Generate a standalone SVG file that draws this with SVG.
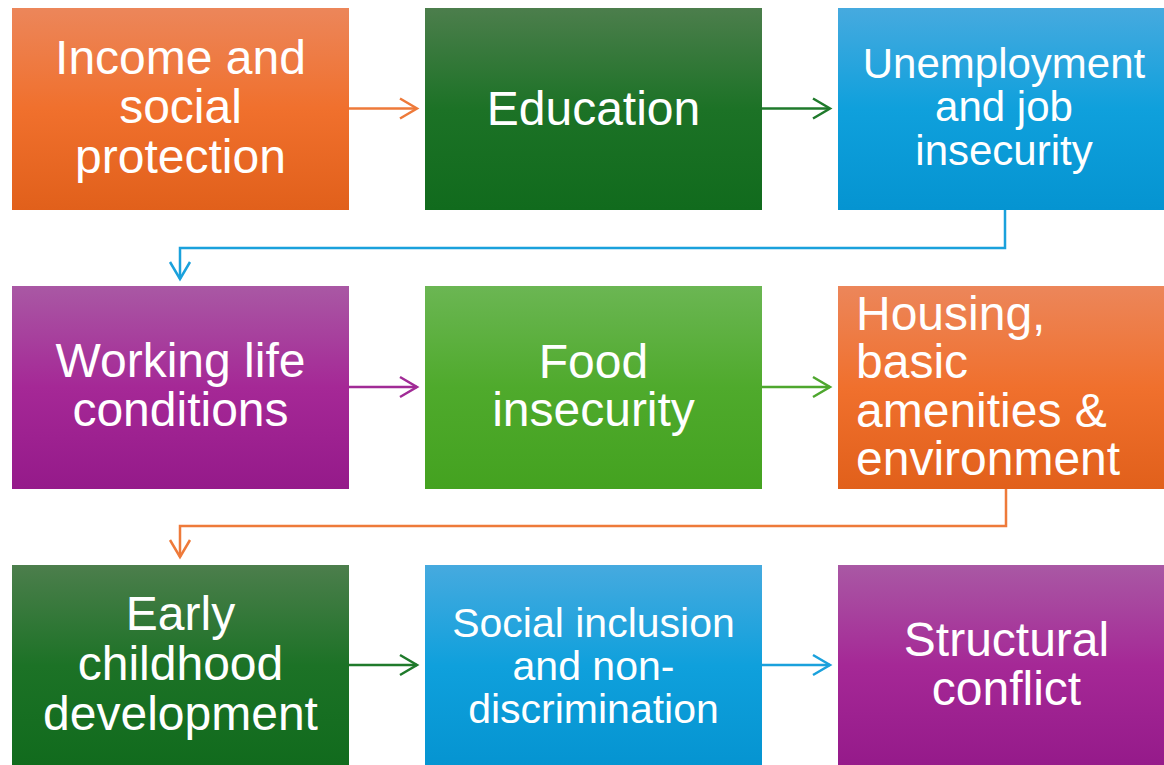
<svg xmlns="http://www.w3.org/2000/svg" width="1164" height="765" viewBox="0 0 1164 765">
  <defs>
    <linearGradient id="gOrange" x1="0" y1="0" x2="0" y2="1">
      <stop offset="0" stop-color="#EC865A"/>
      <stop offset="0.5" stop-color="#F0702D"/>
      <stop offset="1" stop-color="#E1601B"/>
    </linearGradient>
    <linearGradient id="gDark" x1="0" y1="0" x2="0" y2="1">
      <stop offset="0" stop-color="#4C7E4C"/>
      <stop offset="0.5" stop-color="#1C7226"/>
      <stop offset="1" stop-color="#116B1D"/>
    </linearGradient>
    <linearGradient id="gBlue" x1="0" y1="0" x2="0" y2="1">
      <stop offset="0" stop-color="#46AADF"/>
      <stop offset="0.5" stop-color="#0FA0DC"/>
      <stop offset="1" stop-color="#0594D1"/>
    </linearGradient>
    <linearGradient id="gPurple" x1="0" y1="0" x2="0" y2="1">
      <stop offset="0" stop-color="#A958A4"/>
      <stop offset="0.5" stop-color="#A52896"/>
      <stop offset="1" stop-color="#951A8A"/>
    </linearGradient>
    <linearGradient id="gLight" x1="0" y1="0" x2="0" y2="1">
      <stop offset="0" stop-color="#6BB653"/>
      <stop offset="0.5" stop-color="#4FAA2C"/>
      <stop offset="1" stop-color="#44A220"/>
    </linearGradient>
    <marker id="aOrange" markerUnits="userSpaceOnUse" markerWidth="24" markerHeight="24" refX="18" refY="10" orient="auto" overflow="visible">
      <path d="M1,0 L18,10 L1,20" fill="none" stroke="#EE7A3A" stroke-width="2.5"/>
    </marker>
    <marker id="aDark" markerUnits="userSpaceOnUse" markerWidth="24" markerHeight="24" refX="18" refY="10" orient="auto" overflow="visible">
      <path d="M1,0 L18,10 L1,20" fill="none" stroke="#1F7A2B" stroke-width="2.5"/>
    </marker>
    <marker id="aBlue" markerUnits="userSpaceOnUse" markerWidth="24" markerHeight="24" refX="18" refY="10" orient="auto" overflow="visible">
      <path d="M1,0 L18,10 L1,20" fill="none" stroke="#1AA1DC" stroke-width="2.5"/>
    </marker>
    <marker id="aPurple" markerUnits="userSpaceOnUse" markerWidth="24" markerHeight="24" refX="18" refY="10" orient="auto" overflow="visible">
      <path d="M1,0 L18,10 L1,20" fill="none" stroke="#A12B96" stroke-width="2.5"/>
    </marker>
    <marker id="aLight" markerUnits="userSpaceOnUse" markerWidth="24" markerHeight="24" refX="18" refY="10" orient="auto" overflow="visible">
      <path d="M1,0 L18,10 L1,20" fill="none" stroke="#4EA72E" stroke-width="2.5"/>
    </marker>
  </defs>
  <style>
    text { font-family: "Liberation Sans", Arial, sans-serif; fill: #FFFFFF; }
    .c { text-anchor: middle; }
    .l { text-anchor: start; }
    .f48 { font-size: 48px; }
    .f42 { font-size: 42px; }
    .f41 { font-size: 41px; }
    .conn { fill: none; stroke-width: 2.5; }
  </style>

  <rect width="1164" height="765" fill="#FFFFFF"/>

  <!-- connectors -->
  <g id="connectors">
    <path class="conn" d="M349,108.5 H417" stroke="#EE7A3A" marker-end="url(#aOrange)"/>
    <path class="conn" d="M762,108.5 H830" stroke="#1F7A2B" marker-end="url(#aDark)"/>
    <path class="conn" d="M1005,210 V248 H180 V279" stroke="#1AA1DC" marker-end="url(#aBlue)"/>
    <path class="conn" d="M349,387 H417" stroke="#A12B96" marker-end="url(#aPurple)"/>
    <path class="conn" d="M762,387 H830" stroke="#4EA72E" marker-end="url(#aLight)"/>
    <path class="conn" d="M1006,489 V526 H180 V557" stroke="#EE7A3A" marker-end="url(#aOrange)"/>
    <path class="conn" d="M349,665 H417" stroke="#1F7A2B" marker-end="url(#aDark)"/>
    <path class="conn" d="M762,665 H830" stroke="#1AA1DC" marker-end="url(#aBlue)"/>
  </g>

  <!-- row 1 -->
  <g id="income">
    <rect x="12" y="8" width="337" height="202" fill="url(#gOrange)"/>
    <text class="c f48" x="180.5" y="74">Income and</text>
    <text class="c f48" x="180.5" y="123">social</text>
    <text class="c f48" x="180.5" y="173">protection</text>
  </g>
  <g id="education">
    <rect x="425" y="8" width="337" height="202" fill="url(#gDark)"/>
    <text class="c f48" x="593.5" y="125">Education</text>
  </g>
  <g id="unemployment">
    <rect x="838" y="8" width="337" height="202" fill="url(#gBlue)"/>
    <text class="c f42" x="1004" y="78">Unemployment</text>
    <text class="c f42" x="1004" y="121">and job</text>
    <text class="c f42" x="1004" y="165">insecurity</text>
  </g>

  <!-- row 2 -->
  <g id="working">
    <rect x="12" y="286" width="337" height="203" fill="url(#gPurple)"/>
    <text class="c f48" x="180.5" y="377">Working life</text>
    <text class="c f48" x="180.5" y="426">conditions</text>
  </g>
  <g id="food">
    <rect x="425" y="286" width="337" height="203" fill="url(#gLight)"/>
    <text class="c f48" x="593.5" y="378">Food</text>
    <text class="c f48" x="593.5" y="426">insecurity</text>
  </g>
  <g id="housing">
    <rect x="838" y="286" width="337" height="203" fill="url(#gOrange)"/>
    <text class="l f48" x="856" y="330">Housing,</text>
    <text class="l f48" x="856" y="378">basic</text>
    <text class="l f48" x="856" y="427">amenities &amp;</text>
    <text class="l f48" x="856" y="475">environment</text>
  </g>

  <!-- row 3 -->
  <g id="childhood">
    <rect x="12" y="565" width="337" height="202" fill="url(#gDark)"/>
    <text class="c f48" x="180.5" y="630">Early</text>
    <text class="c f48" x="180.5" y="680">childhood</text>
    <text class="c f48" x="180.5" y="730">development</text>
  </g>
  <g id="inclusion">
    <rect x="425" y="565" width="337" height="202" fill="url(#gBlue)"/>
    <text class="c f41" x="593.5" y="637">Social inclusion</text>
    <text class="c f41" x="593.5" y="680">and non-</text>
    <text class="c f41" x="593.5" y="723">discrimination</text>
  </g>
  <g id="conflict">
    <rect x="838" y="565" width="337" height="202" fill="url(#gPurple)"/>
    <text class="c f48" x="1006.5" y="656">Structural</text>
    <text class="c f48" x="1006.5" y="705">conflict</text>
  </g>
</svg>
